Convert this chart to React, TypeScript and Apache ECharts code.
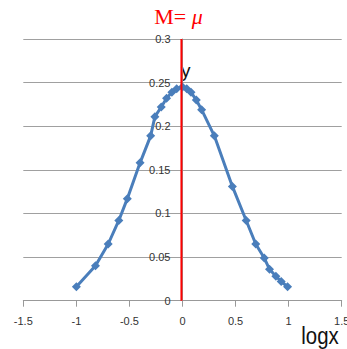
import React, { useEffect, useRef } from "react";
import * as echarts from "echarts";

const logX = [-1, -0.82, -0.7, -0.6, -0.52, -0.4, -0.3, -0.26, -0.2, -0.15, -0.1, -0.055, 0, 0.04, 0.08, 0.13, 0.18, 0.3, 0.47, 0.6, 0.69, 0.77, 0.82, 0.88, 0.93, 0.99];
const yVals = [0.016, 0.04, 0.065, 0.092, 0.117, 0.158, 0.189, 0.211, 0.222, 0.232, 0.239, 0.243, 0.245, 0.243, 0.239, 0.23, 0.219, 0.189, 0.131, 0.092, 0.065, 0.049, 0.036, 0.028, 0.022, 0.016];
const meanX = -0.01;
const redLineY = [0, 0.3];

const GRID_LEFT = 23.3;
const GRID_RIGHT = 5.3;
const PLOT_W = 347 - GRID_LEFT - GRID_RIGHT;

export default function App() {
  const ref = useRef<HTMLDivElement>(null);
  useEffect(() => {
    if (!ref.current) return;
    const chart = echarts.init(ref.current, null, { renderer: "svg" });
    chart.setOption({
      animation: false,
      backgroundColor: "#ffffff",
      grid: { left: GRID_LEFT, right: GRID_RIGHT, top: 39, bottom: 48.3, containLabel: false, outerBoundsMode: "none" },
      xAxis: {
        type: "value",
        min: -1.5,
        max: 1.5,
        interval: 0.5,
        splitLine: { show: false },
        axisLine: { show: true, onZero: false, lineStyle: { color: "#999999", width: 1 } },
        axisTick: { show: true, length: 6, lineStyle: { color: "#999999" } },
        axisLabel: { color: "#333333", fontSize: 11, margin: 15, fontFamily: "Liberation Sans" },
      },
      yAxis: {
        type: "value",
        min: 0,
        max: 0.3,
        interval: 0.05,
        position: "left",
        offset: -PLOT_W / 2,
        splitLine: { show: true, lineStyle: { color: "#a0a0a0", width: 1 } },
        axisLine: { show: true, onZero: false, lineStyle: { color: "#999999", width: 1 } },
        axisTick: { show: false },
        axisLabel: { color: "#333333", fontSize: 11, margin: 12, fontFamily: "Liberation Sans" },
      },
      series: [
        {
          type: "line",
          data: logX.map((x, i) => [x, yVals[i]]),
          symbol: "diamond",
          symbolSize: 9,
          lineStyle: { color: "#4a7ebb", width: 3 },
          itemStyle: { color: "#4a7ebb" },
          z: 2,
        },
        {
          type: "line",
          data: redLineY.map((y) => [meanX, y]),
          symbol: "none",
          lineStyle: { color: "#ff0000", width: 2 },
          z: 3,
        },
      ],
      graphic: [
        {
          type: "text",
          x: 178.5,
          y: 16.5,
          style: {
            text: "{a|M=}{b| μ}",
            align: "center",
            verticalAlign: "middle",
            rich: {
              a: { fontFamily: "Liberation Serif", fontSize: 22, fill: "#ff0000" },
              b: { fontFamily: "Liberation Serif", fontSize: 22, fontStyle: "italic", fill: "#ff0000" },
            },
          },
        },
        {
          type: "text",
          x: 181,
          y: 70,
          style: {
            text: "y",
            fontFamily: "Liberation Sans",
            fontSize: 19,
            fill: "#111111",
            align: "left",
            verticalAlign: "middle",
          },
        },
        {
          type: "text",
          x: 320,
          y: 336,
          scaleX: 0.85,
          style: {
            text: "logx",
            fontFamily: "Liberation Sans",
            fontSize: 24,
            fill: "#111111",
            align: "center",
            verticalAlign: "middle",
          },
        },
      ],
    });
    return () => chart.dispose();
  }, []);
  return <div ref={ref} style={{ width: 347, height: 349, position: "absolute", left: 0, top: 0 }} />;
}
